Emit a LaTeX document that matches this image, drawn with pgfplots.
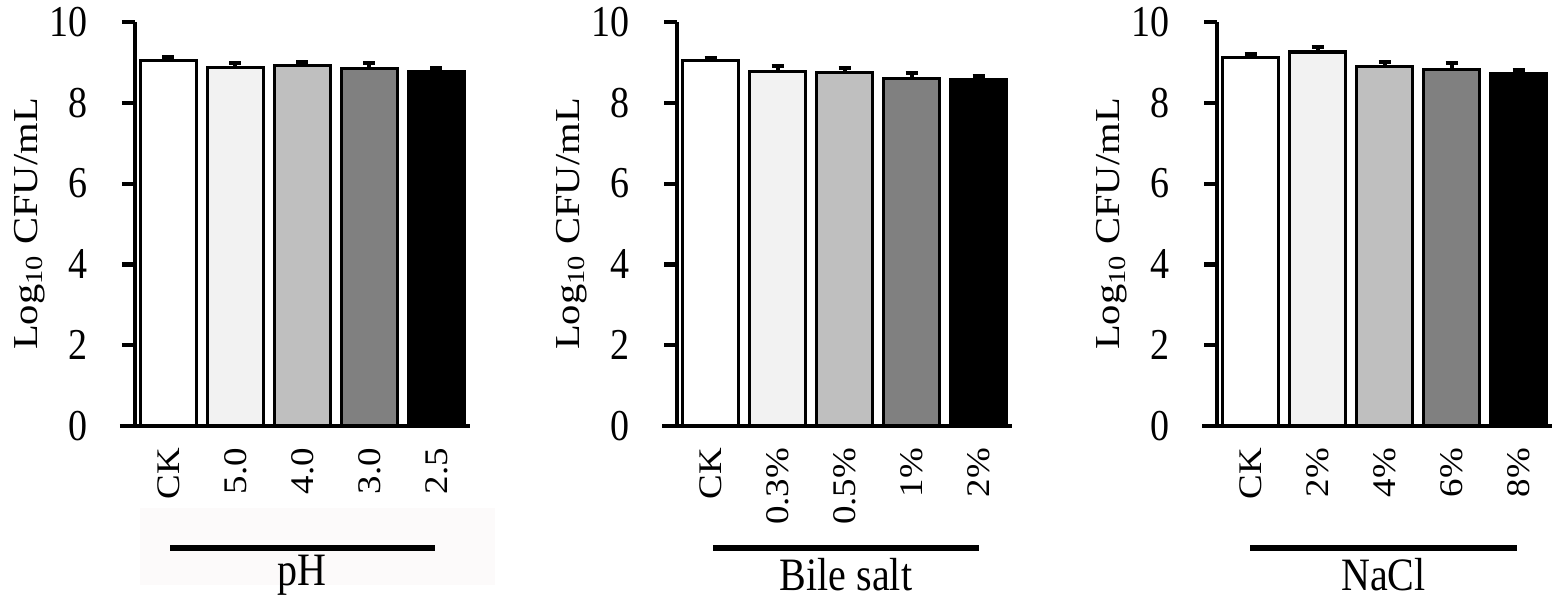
\documentclass[border=0pt]{standalone}
\usepackage{fontspec}
\setmainfont{Liberation Serif}
\usepackage{pgfplots}
\pgfplotsset{compat=1.18}
\definecolor{g1}{HTML}{F2F2F2}
\definecolor{g2}{HTML}{BFBFBF}
\definecolor{g3}{HTML}{808080}
\definecolor{faint}{RGB}{252,250,250}
\pgfplotsset{
  panel/.style={
    scale only axis, width=167.5pt, height=202pt,
    xmin=-0.5, xmax=4.5, ymin=0, ymax=10,
    ytick={0,2,...,10}, xtick={0,...,4},
    axis x line*=bottom, axis y line*=left,
    axis line style={line width=2.1pt, -},
    x axis line style={shorten <=-7.5pt},
    major tick length=6.5pt, tick align=outside,
    ytick style={line width=2.1pt, black},
    xtick style={draw=none},
    /pgf/number format/assume math mode=true,
    yticklabel style={font=\fontsize{19}{20}\selectfont, xshift=-13.5pt, yscale=1.16},
    xticklabel style={font=\fontsize{16.5}{17}\selectfont, rotate=90, anchor=east, xshift=-0.5pt, xscale=1.12},
    ylabel={Log\textsubscript{10} CFU/mL},
    ylabel style={font=\fontsize{17.5}{20}\selectfont, at={(axis description cs:0,0.5)}, anchor=center, yshift=52.5pt, xscale=1.16},
    clip=false,
  },
  bb/.style={ybar, bar width=28pt, bar shift=0pt, draw=black, line width=1.6pt, fill=#1,
    error bars/.cd, y dir=plus, y explicit,
    error bar style={line width=2pt, black},
    error mark options={rotate=90, mark size=3pt, line width=2pt, black}},
}
\begin{document}
\begin{tikzpicture}
\useasboundingbox (0,0) rectangle (779.5pt,301pt);
\fill[faint] (70pt,8.5pt) rectangle (247.5pt,47pt);
% Panel 1: pH
\begin{axis}[panel, at={(67.5pt,88pt)}, anchor=south west,
  xticklabels={CK,5.0,4.0,3.0,2.5}]
\addplot[bb=white] coordinates {(0,9.05) +- (0,0.08)};
\addplot[bb=g1] coordinates {(1,8.88) +- (0,0.10)};
\addplot[bb=g2] coordinates {(2,8.92) +- (0,0.09)};
\addplot[bb=g3] coordinates {(3,8.85) +- (0,0.14)};
\addplot[bb=black] coordinates {(4,8.77) +- (0,0.08)};
\end{axis}
% Panel 2: Bile salt
\begin{axis}[panel, at={(338.5pt,88pt)}, anchor=south west,
  xticklabels={CK,0.3\%,0.5\%,1\%,2\%}]
\addplot[bb=white] coordinates {(0,9.05) +- (0,0.06)};
\addplot[bb=g1] coordinates {(1,8.78) +- (0,0.13)};
\addplot[bb=g2] coordinates {(2,8.76) +- (0,0.09)};
\addplot[bb=g3] coordinates {(3,8.61) +- (0,0.14)};
\addplot[bb=black] coordinates {(4,8.58) +- (0,0.08)};
\end{axis}
% Panel 3: NaCl
\begin{axis}[panel, at={(608.5pt,88pt)}, anchor=south west,
  xticklabels={CK,2\%,4\%,6\%,8\%}]
\addplot[bb=white] coordinates {(0,9.13) +- (0,0.07)};
\addplot[bb=g1] coordinates {(1,9.26) +- (0,0.13)};
\addplot[bb=g2] coordinates {(2,8.90) +- (0,0.10)};
\addplot[bb=g3] coordinates {(3,8.83) +- (0,0.15)};
\addplot[bb=black] coordinates {(4,8.73) +- (0,0.08)};
\end{axis}
% group lines and labels
\draw[line width=3.2pt] (85pt,27pt) -- (217.5pt,27pt);
\draw[line width=3.2pt] (356.5pt,27pt) -- (489.5pt,27pt);
\draw[line width=3.2pt] (625pt,27pt) -- (758.5pt,27pt);
\node[font=\fontsize{20}{22}\selectfont, yscale=1.16] at (151pt,13.5pt) {pH};
\node[font=\fontsize{20}{22}\selectfont, yscale=1.16] at (423pt,13.5pt) {Bile salt};
\node[font=\fontsize{20}{22}\selectfont, yscale=1.16] at (691.75pt,13.5pt) {NaCl};
\end{tikzpicture}
\end{document}
